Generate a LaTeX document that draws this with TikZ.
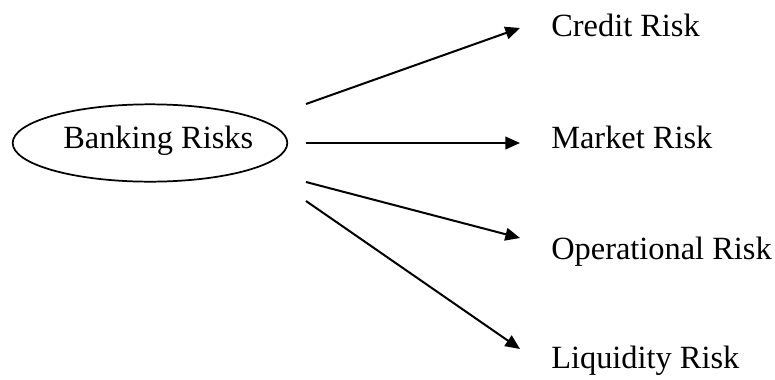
\documentclass[tikz,border=0pt]{standalone}
\usepackage{fontspec}
\setmainfont{Liberation Serif}
\usetikzlibrary{arrows.meta,shapes.geometric}
\begin{document}
\begin{tikzpicture}[x=0.75pt,y=-0.75pt,
  conn/.style={line width=1.5pt,-{Triangle[length=11pt,width=9.5pt]}},
  lbl/.style={anchor=base west,inner sep=0pt,font=\fontsize{24.3pt}{27pt}\selectfont},
  bankbox/.style={ellipse,draw,line width=1.3pt,minimum width=206pt,minimum height=58pt,inner sep=0pt,font=\fontsize{24.3pt}{27pt}\selectfont}]
\useasboundingbox (0,0) rectangle (775,379);
\node[bankbox] (bank) at (150,143) {};
\node[anchor=base west,inner sep=0pt,font=\fontsize{24.3pt}{27pt}\selectfont] (banktext) at (63,148) {Banking Risks};
\node[lbl] (credit) at (551,36) {Credit Risk};
\node[lbl] (market) at (551,148) {Market Risk};
\node[lbl] (oper) at (551,259) {Operational Risk};
\node[lbl] (liq) at (551,368) {Liquidity Risk};
\coordinate (s1) at (306,104);
\coordinate (s2) at (306,143);
\coordinate (s3) at (306,182);
\coordinate (s4) at (306,201);
\coordinate (e1) at (520,28);
\coordinate (e2) at (520,143);
\coordinate (e3) at (520,238);
\coordinate (e4) at (520,349);
\draw[conn] (s1) -- (e1);
\draw[conn] (s2) -- (e2);
\draw[conn] (s3) -- (e3);
\draw[conn] (s4) -- (e4);
\end{tikzpicture}
\end{document}
